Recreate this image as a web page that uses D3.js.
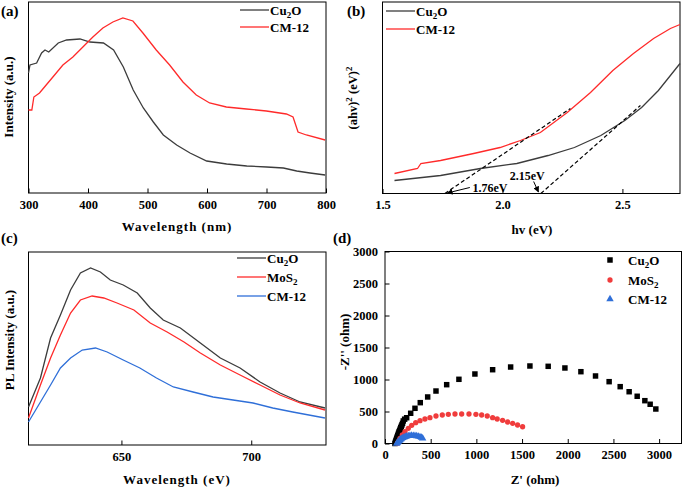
<!DOCTYPE html>
<html><head><meta charset="utf-8">
<script src="https://cdn.jsdelivr.net/npm/d3@7"></script>
<style>
body{margin:0;background:#fff;}
svg text{font-family:"Liberation Serif","Times New Roman",serif;font-weight:bold;fill:#000;}
</style></head>
<body><svg id="c" width="685" height="488"></svg>
<script>
// ---------- (a) UV-vis absorption ----------
const aWave_Cu2O = [300,302.5,313.7,322,327.7,334,350,364,386.5,403.3,426,443,459.4,476,493,509.8,526.6,549,571.5,599.5,633,666.8,700.4,728.4,750.8,773.2,798.5];
const aInt_Cu2O  = [120,128,130,140,143,141,150,153,154,151,150,143,126,103,85,71,58,48,40,32,29,27,26,25,22,20,18];
const aWave_CM12 = [300,305.6,309,318.5,329.7,341,357.8,374.6,391.4,408.2,425,441.8,458.6,475.5,492.3,514.7,537.2,559.6,582,604.4,632.5,666.2,699.8,733.4,744.6,753,767,798.5];
const aInt_CM12  = [83,83,96,100,108,116,128,136,146,156,165,171,175,172,160,143,128,111,98,90,86,84,82,79,76,61,58,53];
const aTicks = [300,400,500,600,700,800];

// ---------- (b) Tauc plot ----------
const bE_Cu2O = [1.55,1.742,1.908,2.06,2.19,2.30,2.41,2.51,2.58,2.65,2.74];
const bV_Cu2O = [13,18,25,30,38,46,58,73,86,103,130];
const bE_CM12 = [1.55,1.646,1.66,1.742,1.88,1.99,2.075,2.158,2.27,2.367,2.46,2.546,2.63,2.70,2.74];
const bV_CM12 = [20,25,30,33,40,46,53,61,81,101,123,140,155,165,169];
const bTangent1 = [[1.76,0],[2.283,85]];
const bTangent2 = [[2.16,0],[2.575,88]];
const bTicks = [1.5,2.0,2.5];

// ---------- (c) PL ----------
const cWave_Cu2O = [614.2,618.8,622.7,626.5,630.4,634.2,638.1,641.9,645.7,650.7,656.1,661.1,666.1,672.7,680.4,688.1,695.7,703.4,711.1,718.8,728.4];
const cInt_Cu2O  = [38,67,107,130,155,172,177,173,165,160,152,137,125,117,102,87,77,63,52,43,37];
const cWave_MoS2 = [614.2,618.8,622.7,626.5,630.4,634.2,638.7,643.2,648.3,654.8,661.1,667.6,674.1,680.4,688.1,695.7,703.4,711.1,718.8,728.4];
const cInt_MoS2  = [27,60,87,110,132,145,149,147,142,135,122,113,103,92,80,70,60,50,42,35];
const cWave_CM12 = [614.2,618.8,622.7,626.5,630.4,634.9,640,644.5,650.7,657.1,663.5,670,677.6,685.3,693,700.7,708.3,716,728.4];
const cInt_CM12  = [23,43,60,77,87,95,97,93,85,77,67,58,53,48,45,42,37,33,27];
const cTicks = [650,700];

// ---------- (d) Nyquist ----------
const dRe_Cu2O = [109,114,119,124,129,134,139,144,149,154,160,166,172,178,185,192,200,215,237,281,328,386,467,558,675,809,984,1178,1375,1586,1786,1969,2144,2304,2453,2574,2672,2760,2844,2902,2964];
const dIm_Cu2O = [0,20,40,62,82,102,122,142,162,182,203,225,247,268,290,315,352,380,403,472,550,638,727,820,919,1003,1086,1153,1195,1211,1206,1180,1122,1055,966,888,809,738,669,613,539];
const dRe_MoS2 = [136,146,164,189,219,255,292,336,383,437,492,558,627,693,766,839,919,995,1058,1119,1178,1228,1287,1342,1397,1451,1506];
const dIm_MoS2 = [5,28,81,133,184,237,284,325,356,383,403,430,445,456,461,461,461,456,445,430,403,383,362,336,316,289,262];
const dRe_CM12 = [128,137,146,155,164,173,183,195,208,222,237,255,273,291,310,328,347,365,383,398,412];
const dIm_CM12 = [0,14,28,42,55,66,75,87,97,105,112,118,122,123,122,120,117,110,102,92,81];
const dTicks = [0,500,1000,1500,2000,2500,3000];

const GRAY = "#3c3c3c", RED = "#ff2a2a", BLUE = "#2f6fd8";
const svg = d3.select("#c");
const zip = (a,b) => a.map((v,i)=>[v,b[i]]);

function frame(x0,y0,x1,y1){
  svg.append("rect").attr("x",x0).attr("y",y0).attr("width",x1-x0).attr("height",y1-y0)
    .attr("fill","none").attr("stroke","#000").attr("stroke-width",1);
}
function xAxis(x, yPos, ticks, minor, fmt){
  const g = svg.append("g").attr("transform",`translate(0,${yPos})`);
  g.call(d3.axisBottom(x).tickValues(minor).tickSize(-2.5).tickFormat(""));
  g.call(d3.axisBottom(x).tickValues(ticks).tickSize(-4.5).tickPadding(7).tickFormat(fmt));
  g.selectAll(".domain").remove();
  g.selectAll("text").attr("font-size",12.5).attr("font-family","Liberation Serif").attr("font-weight","bold");
  g.selectAll("line").attr("stroke","#000");
  return g;
}
function lineOf(x,y,data,color){
  svg.append("path").datum(data).attr("fill","none").attr("stroke",color).attr("stroke-width",1.3)
    .attr("d",d3.line().x(d=>x(d[0])).y(d=>y(d[1])));
}
function label(txt,x,y,opt={}){
  const t = svg.append("text").attr("x",x).attr("y",y).attr("font-size",opt.size||13)
    .attr("text-anchor",opt.anchor||"start");
  if(opt.rotate) t.attr("transform",`rotate(-90,${x},${y})`);
  if(opt.ls) t.attr("letter-spacing",opt.ls);
  t.text(txt);
  return t;
}
function legendLine(x,y,color,parts){
  svg.append("line").attr("x1",x).attr("x2",x+29).attr("y1",y).attr("y2",y).attr("stroke",color).attr("stroke-width",1.3);
  const t = svg.append("text").attr("x",x+30).attr("y",y+4.5).attr("font-size",13);
  parts.forEach(p=>{ const s=t.append("tspan").text(p[0]); if(p[1]) s.attr("font-size",9).attr("dy",3); else if(p[2]) s.attr("dy",-3); });
  return t;
}

// ===== Panel (a) =====
{
  const x = d3.scaleLinear().domain([300,800]).range([28.5,326]);
  const y = d3.scaleLinear().domain([0,191]).range([193,2]);
  frame(28.5,2,326,193);
  xAxis(x,193,aTicks,[350,450,550,650,750],d3.format("d"));
  lineOf(x,y,zip(aWave_Cu2O,aInt_Cu2O),GRAY);
  lineOf(x,y,zip(aWave_CM12,aInt_CM12),RED);
  label("(a)",1,16,{size:15});
  label("Intensity (a.u.)",13,97,{rotate:true,anchor:"middle"});
  label("Wavelength (nm)",177,231,{anchor:"middle",ls:1});
  legendLine(240,10,GRAY,[["Cu"],["2",true],["O",false,true]]);
  legendLine(240,27,RED,[["CM-12"]]);
}
// ===== Panel (b) =====
{
  const x = d3.scaleLinear().domain([1.5,2.74]).range([382.5,680]);
  const y = d3.scaleLinear().domain([0,191]).range([193.5,2.5]);
  frame(382.5,2,680,193.5);
  xAxis(x,193.5,bTicks,[1.75,2.25],d3.format(".1f"));
  lineOf(x,y,zip(bE_Cu2O,bV_Cu2O),GRAY);
  lineOf(x,y,zip(bE_CM12,bV_CM12),RED);
  [bTangent1,bTangent2].forEach(t=>{
    svg.append("line").attr("x1",x(t[0][0])).attr("y1",y(t[0][1])).attr("x2",x(t[1][0])).attr("y2",y(t[1][1]))
      .attr("stroke","#000").attr("stroke-width",1.2).attr("stroke-dasharray","4,2.5");
  });
  svg.append("defs").append("marker").attr("id","ah").attr("viewBox","0 0 10 10").attr("refX",9).attr("refY",5)
    .attr("markerWidth",6).attr("markerHeight",6).attr("orient","auto")
    .append("path").attr("d","M0,0L10,5L0,10z").attr("fill","#000");
  const arr = (a,b)=>svg.append("line").attr("x1",x(a[0])).attr("y1",y(a[1])).attr("x2",x(b[0])).attr("y2",y(b[1]))
      .attr("stroke","#000").attr("stroke-width",1).attr("marker-end","url(#ah)");
  arr([1.864,6],[1.77,0.5]);
  arr([2.13,12],[2.15,1.5]);
  label("1.76eV",x(1.875),y(2),{size:12});
  label("2.15eV",x(2.03),y(14),{size:12});
  label("(b)",347,16,{size:15});
  const yl = svg.append("text").attr("x",357).attr("y",98).attr("font-size",12.5).attr("text-anchor","middle")
    .attr("transform","rotate(-90,357,98)");
  yl.append("tspan").text("(ahv)");
  yl.append("tspan").text("2").attr("font-size",9).attr("dy",-5);
  yl.append("tspan").text(" (eV)").attr("dy",5);
  yl.append("tspan").text("2").attr("font-size",9).attr("dy",-5);
  label("hv (eV)",532,234,{anchor:"middle"});
  legendLine(386,11,GRAY,[["Cu"],["2",true],["O",false,true]]);
  legendLine(386,29,RED,[["CM-12"]]);
}
// ===== Panel (c) =====
{
  const x = d3.scaleLinear().domain([614.2,728.8]).range([28.5,326]);
  const y = d3.scaleLinear().domain([0,193]).range([445,252]);
  frame(28.5,252,326,445);
  xAxis(x,445,cTicks,[625,675,725],d3.format("d"));
  lineOf(x,y,zip(cWave_Cu2O,cInt_Cu2O),GRAY);
  lineOf(x,y,zip(cWave_MoS2,cInt_MoS2),RED);
  lineOf(x,y,zip(cWave_CM12,cInt_CM12),BLUE);
  label("(c)",1,243,{size:15});
  label("PL Intensity (a.u.)",14,340,{rotate:true,anchor:"middle"});
  label("Wavelength (eV)",177,484,{anchor:"middle",ls:1});
  legendLine(237,258,GRAY,[["Cu"],["2",true],["O",false,true]]);
  legendLine(237,277,RED,[["MoS"],["2",true]]);
  legendLine(237,296,BLUE,[["CM-12"]]);
}
// ===== Panel (d) =====
{
  const x = d3.scaleLinear().domain([0,3245]).range([385,681.5]);
  const y = d3.scaleLinear().domain([0,3000]).range([443.5,251.5]);
  frame(385,251.5,681.5,443.5);
  const xg = xAxis(x,443.5,dTicks,d3.range(250,3245,500),d3.format("d"));
  const yg = svg.append("g").attr("transform","translate(385,0)");
  yg.call(d3.axisLeft(y).tickValues(d3.range(250,3000,500)).tickSize(-2.5).tickFormat(""));
  yg.call(d3.axisLeft(y).tickValues(dTicks).tickSize(-4.5).tickPadding(7).tickFormat(d3.format("d")));
  yg.selectAll(".domain").remove();
  yg.selectAll("text").attr("font-size",12.5).attr("font-family","Liberation Serif").attr("font-weight","bold");
  const sq = d3.symbol().type(d3.symbolSquare).size(30);
  const ci = d3.symbol().type(d3.symbolCircle).size(22);
  const tr = d3.symbol().type(d3.symbolTriangle).size(24);
  const pts = (xs,ys,sym,color)=>svg.append("g").selectAll("path").data(zip(xs,ys)).join("path")
     .attr("d",sym).attr("fill",color).attr("transform",d=>`translate(${x(d[0])},${y(d[1])})`);
  pts(dRe_Cu2O,dIm_Cu2O,sq,"#000");
  pts(dRe_MoS2,dIm_MoS2,ci,"#f03c3c");
  pts(dRe_CM12,dIm_CM12,tr,BLUE);
  label("(d)",333,243,{size:15});
  label("-Z'' (ohm)",349,342,{rotate:true,anchor:"middle"});
  label("Z' (ohm)",535,484,{anchor:"middle"});
  const legs = [[sq,"#000",[["Cu"],["2",true],["O",false,true]],260],[ci,"#f03c3c",[["MoS"],["2",true]],280],[tr,BLUE,[["CM-12"]],299]];
  legs.forEach(l=>{
    svg.append("path").attr("d",l[0]).attr("fill",l[1]).attr("transform",`translate(610,${l[3]})`);
    const t = svg.append("text").attr("x",628).attr("y",l[3]+4.5).attr("font-size",13);
    l[2].forEach(p=>{ const s=t.append("tspan").text(p[0]); if(p[1]) s.attr("font-size",9).attr("dy",3); else if(p[2]) s.attr("dy",-3); });
  });
}
</script></body></html>
